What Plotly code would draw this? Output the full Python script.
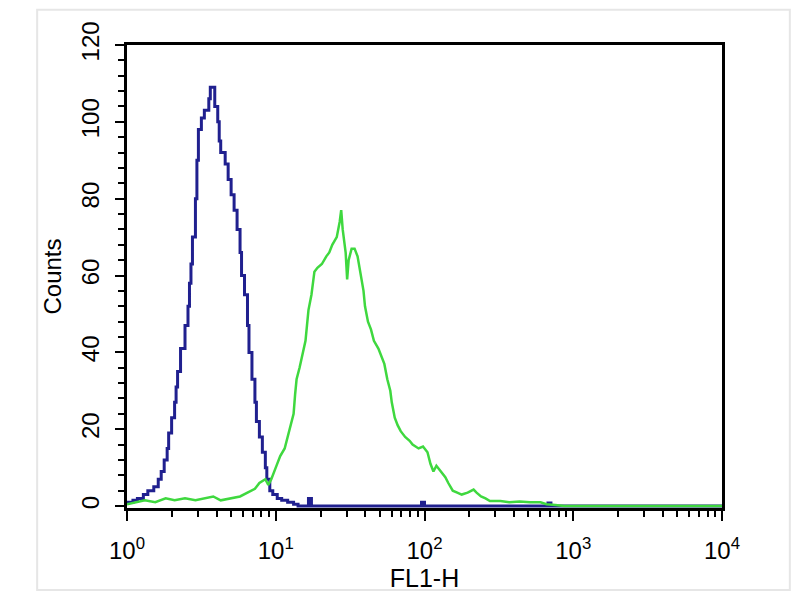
import plotly.graph_objects as go

# Histogram data; channel positions given in decades (log10 FL1-H)
blue_log = [0.00, 0.04, 0.07, 0.11, 0.14, 0.18, 0.21, 0.23, 0.25, 0.27, 0.28, 0.30, 0.32, 0.33,
            0.34, 0.36, 0.39, 0.41, 0.42, 0.43, 0.44, 0.46, 0.47, 0.48, 0.50, 0.52, 0.55, 0.56,
            0.59, 0.61, 0.62, 0.63, 0.66, 0.68, 0.70, 0.72, 0.74, 0.76, 0.77, 0.79, 0.81, 0.82,
            0.84, 0.86, 0.87, 0.89, 0.91, 0.93, 0.94, 0.96, 0.98, 1.01, 1.04, 1.08, 1.12, 1.15,
            1.21, 1.22, 1.24, 1.97, 1.98, 2.00, 2.81, 2.83, 2.85, 4.00]
blue_counts = [1, 1.5, 2, 3, 4, 5, 7, 9, 12, 15, 19, 23, 27, 31,
               35, 41, 47, 52, 58, 63, 70, 80, 90, 98, 101, 103, 106, 109,
               104, 100, 95, 92, 89, 85, 81, 77, 72, 66, 60, 55, 47, 40,
               33, 27, 22, 18, 14, 10, 7, 4, 3, 2, 1.5, 1, 0.5, 0,
               0, 2, 0, 0, 1, 0, 0, 0.8, 0, 0]

green_log = [0.00, 0.05, 0.12, 0.19, 0.26, 0.32, 0.39, 0.46, 0.52, 0.58, 0.63, 0.69, 0.76, 0.81,
             0.86, 0.89, 0.93, 0.95, 0.97, 1.00, 1.03, 1.06, 1.08, 1.10, 1.12, 1.13, 1.14, 1.16,
             1.18, 1.20, 1.21, 1.22, 1.24, 1.25, 1.26, 1.28, 1.31, 1.34, 1.36, 1.38, 1.41, 1.43,
             1.44, 1.45, 1.47, 1.48, 1.49, 1.51, 1.53, 1.55, 1.57, 1.59, 1.60, 1.62, 1.64, 1.66,
             1.69, 1.71, 1.73, 1.75, 1.77, 1.78, 1.80, 1.82, 1.84, 1.87, 1.90, 1.92, 1.96, 1.99,
             2.02, 2.04, 2.06, 2.08, 2.11, 2.14, 2.16, 2.19, 2.22, 2.25, 2.29, 2.33, 2.35, 2.38,
             2.41, 2.44, 2.51, 2.57, 2.64, 2.71, 2.78, 2.82, 2.88, 2.94, 4.00]
green_counts = [0.5, 1, 1.5, 1, 2, 1.5, 2, 1.5, 2, 2.5, 1.5, 2, 2.5, 3.5,
                4.5, 6, 7, 5.5, 7, 10, 13, 15, 18, 21, 24, 29, 33, 36,
                40, 43, 47, 51, 55, 58, 61, 62, 63, 65, 66, 68, 70, 74,
                77, 72, 66, 59, 64, 67, 67, 65, 61, 56, 52, 48, 46, 43,
                41, 39, 37, 33, 30, 27, 23, 21, 19.5, 18, 17, 16, 15, 15.5,
                14, 11, 9, 10.5, 9, 7.5, 6, 4, 3.5, 3, 3.5, 4.3, 3.5, 2.5,
                2, 1.3, 1.3, 1, 1.2, 1, 1, 0.5, 0.3, 0, 0]

x_tick_vals = [1, 10, 100, 1000, 10000]
x_tick_text = ["10<sup>0</sup>", "10<sup>1</sup>", "10<sup>2</sup>", "10<sup>3</sup>", "10<sup>4</sup>"]
y_tick_vals = [0, 20, 40, 60, 80, 100, 120]

blue_x = [10 ** v for v in blue_log]
green_x = [10 ** v for v in green_log]

FONT = "Liberation Sans, Arial, sans-serif"

fig = go.Figure()
fig.add_trace(go.Scatter(x=blue_x, y=blue_counts, mode="lines",
                         line=dict(color="#20208f", width=3, shape="hv"),
                         showlegend=False))
fig.add_trace(go.Scatter(x=green_x, y=green_counts, mode="lines",
                         line=dict(color="#3fd83f", width=2.5),
                         showlegend=False))

fig.update_layout(
    width=800, height=600,
    paper_bgcolor="white", plot_bgcolor="white",
    margin=dict(l=127, r=78, t=45, b=92),
    font=dict(family=FONT, color="black", size=24),
    shapes=[dict(type="rect", xref="paper", yref="paper",
                 x0=-0.151, x1=1.114, y0=-0.177, y1=1.076,
                 line=dict(color="#e6e6e6", width=2), layer="below")],
)

fig.update_xaxes(
    type="log", range=[0, 4],
    tickvals=x_tick_vals, ticktext=x_tick_text,
    ticks="outside", ticklen=10, tickwidth=2, tickcolor="black",
    minor=dict(ticks="outside", ticklen=6, tickwidth=2, tickcolor="black",
               dtick="D1", showgrid=False),
    showline=True, linecolor="black", linewidth=3, mirror=True,
    showgrid=False, zeroline=False,
    tickfont=dict(size=24, family=FONT),
    ticklabelstandoff=9,
    title=dict(text="FL1-H", font=dict(size=25, family=FONT), standoff=0),
    layer="below traces",
)
fig.update_yaxes(
    range=[-0.5, 120],
    tickvals=y_tick_vals, tickangle=-90,
    ticks="outside", ticklen=9, tickwidth=2, tickcolor="black",
    minor=dict(ticks="outside", ticklen=6, tickwidth=2, tickcolor="black",
               dtick=4, tick0=0, showgrid=False),
    showline=True, linecolor="black", linewidth=3, mirror=True,
    showgrid=False, zeroline=False,
    tickfont=dict(size=24, family=FONT),
    ticklabelstandoff=6,
    title=dict(text="Counts", font=dict(size=24, family=FONT), standoff=10),
    layer="below traces",
)

fig.write_html("out.html", post_script="document.body.style.margin='0';",
               config={"displayModeBar": False})
